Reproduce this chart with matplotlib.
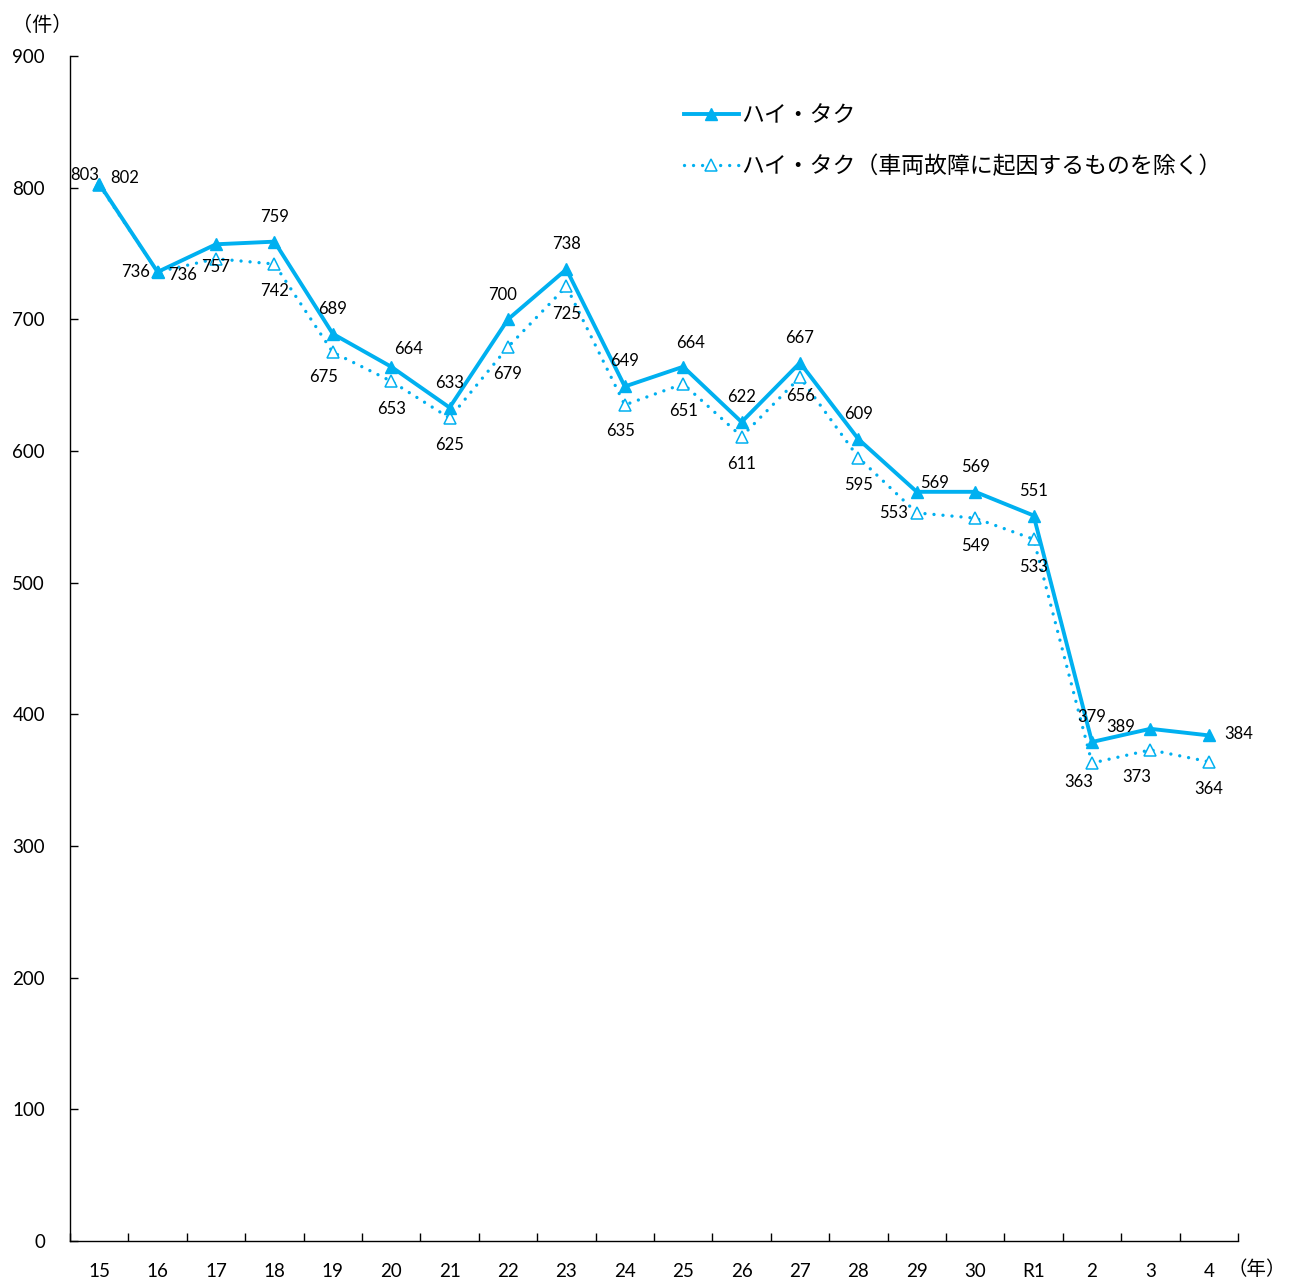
import matplotlib
matplotlib.use("Agg")
import matplotlib.pyplot as plt
import numpy as np

plt.rcParams['font.family'] = ['Lato', 'Noto Sans CJK JP', 'DejaVu Sans']

# data
years = ['15', '16', '17', '18', '19', '20', '21', '22', '23', '24',
         '25', '26', '27', '28', '29', '30', 'R1', '2', '3', '4']
hitaku = [803, 736, 757, 759, 689, 664, 633, 700, 738, 649,
          664, 622, 667, 609, 569, 569, 551, 379, 389, 384]
hitaku_excl = [802, 736, 746, 742, 675, 653, 625, 679, 725, 635,
               651, 611, 656, 595, 553, 549, 533, 363, 373, 364]
label_main = 'ハイ・タク'
label_excl = 'ハイ・タク（車両故障に起因するものを除く）'

# label offsets in pixels (dx, dy up)
off_main = [(-15, 9), (-22, 0), (0, -23), (0, 25), (0, 25), (17, 18), (0, 25),
            (-5, 24), (0, 25), (0, 25), (7, 24), (0, 25), (0, 25), (0, 25),
            (18, 9), (0, 25), (0, 25), (0, 25), (-30, 2), (30, 1)]
off_excl = [(25, 7), (25, -3), None, (0, -27), (-9, -25), (0, -28), (0, -27),
            (0, -27), (0, -28), (-4, -26), (0, -27), (0, -27), (1, -19),
            (0, -27), (-23, 0), (0, -28), (0, -28), (-13, -19), (-14, -27),
            (0, -27)]

color = '#00B0F0'

fig = plt.figure(figsize=(12.9, 12.82), dpi=100)
ax = fig.add_axes([70 / 1290, 41 / 1282, 1168 / 1290, 1185 / 1282])

x = np.arange(len(years))
ax.plot(x, hitaku, color=color, lw=2.8, marker='^', ms=9,
        mfc=color, mec=color, label=label_main, zorder=3)
ax.plot(x, hitaku_excl, color=color, lw=2.4, ls=(0, (0.01, 2.7)),
        dash_capstyle='round', marker='^', ms=9, mfc='white', mec=color,
        mew=1.1, label=label_excl, zorder=2)

for i in range(len(years)):
    dx, dy = off_main[i]
    ax.annotate(str(hitaku[i]), (x[i], hitaku[i]), xytext=(dx, dy),
                textcoords='offset pixels', ha='center', va='center',
                fontsize=12, color='black')
    if off_excl[i] is not None:
        dx, dy = off_excl[i]
        ax.annotate(str(hitaku_excl[i]), (x[i], hitaku_excl[i]),
                    xytext=(dx, dy), textcoords='offset pixels',
                    ha='center', va='center', fontsize=12, color='black')

ax.set_xlim(-0.5, len(years) - 0.5)
ax.set_ylim(0, 900)
ax.set_yticks(np.arange(0, 901, 100))
ax.set_xticks(np.arange(-0.5, len(years), 1.0))
ax.set_xticklabels([])
ax.set_xticks(x, minor=True)
ax.set_xticklabels(years, minor=True)
ax.tick_params(axis='x', which='major', direction='in', length=6, width=1)
ax.tick_params(axis='x', which='minor', length=0, pad=15.5, labelsize=13.5)
ax.tick_params(axis='y', direction='in', length=6, width=1, pad=18,
               labelsize=13.5)
for s in ['top', 'right']:
    ax.spines[s].set_visible(False)
for s in ['left', 'bottom']:
    ax.spines[s].set_linewidth(1)

fig.text(42 / 1290, 1 - 24 / 1282, '（件）', ha='center', va='center',
         fontsize=14.5)
fig.text(1286 / 1290, 1 - 1269 / 1282, '（年）', ha='right', va='center',
         fontsize=14)

ax.legend(loc='upper left', bbox_to_anchor=(0.508, 0.976), frameon=False,
          fontsize=16.5, handlelength=2.4, handletextpad=0.1,
          labelspacing=1.26)

fig.savefig('out.png', dpi=100)
